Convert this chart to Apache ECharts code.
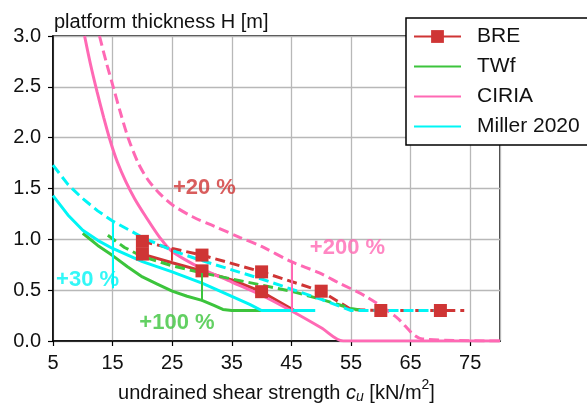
<!DOCTYPE html>
<html>
<head>
<meta charset="utf-8">
<script src="https://cdn.jsdelivr.net/npm/echarts@6/dist/echarts.min.js"></script>
<style>
html,body{margin:0;padding:0;background:#fff}
#main{width:587px;height:405px}
</style>
</head>
<body>
<div id="main"></div>
<script>
// values (x = cu in kN/m2, y = H in m)
var breX = [20, 25, 30, 35, 40, 45.5];
var breH = [0.855, 0.77, 0.69, 0.6, 0.485, 0.3];
var breMarks = [20, 30, 40];

var bre20X = [20, 25, 30, 40, 50, 55, 60, 70, 74];
var bre20H = [0.98, 0.91, 0.845, 0.68, 0.49, 0.31, 0.3, 0.3, 0.3];
var bre20Marks = [20, 30, 40, 50, 60, 70];

var twfX = [10, 12.5, 15, 17.5, 20, 22.5, 25, 27.5, 30, 32, 33.5, 35, 40];
var twfH = [1.06, 0.94, 0.84, 0.73, 0.63, 0.56, 0.49, 0.44, 0.4, 0.35, 0.31, 0.3, 0.3];

var twf100X = [14.2, 17, 20, 25, 30, 35, 40, 45, 50, 55, 57];
var twf100H = [1.04, 0.92, 0.83, 0.74, 0.67, 0.61, 0.55, 0.49, 0.41, 0.32, 0.3];

var ciriaX = [10.3, 11.3, 12.4, 13.5, 14.6, 15.8, 17.2, 18.7, 20.5, 22.9, 25, 30, 35, 40, 45.5, 50, 53.7, 80];
var ciriaH = [3.0, 2.72, 2.45, 2.2, 1.97, 1.76, 1.57, 1.4, 1.23, 1.02, 0.88, 0.71, 0.58, 0.45, 0.28, 0.13, 0.0, 0.0];

var ciria200X = [12.8, 13.9, 15.1, 16.3, 17.6, 19.3, 21, 22.9, 25, 28.5, 32, 36.3, 40, 45, 49.7, 53, 57.6, 62.5, 67, 80];
var ciria200H = [3.0, 2.75, 2.5, 2.25, 2.0, 1.75, 1.58, 1.45, 1.34, 1.22, 1.13, 1.02, 0.93, 0.78, 0.67, 0.57, 0.435, 0.24, 0.02, 0.0];

var millerX = [5, 7.5, 10, 12.5, 15, 20, 25, 30, 35, 38, 40, 49];
var millerH = [1.43, 1.24, 1.09, 0.99, 0.91, 0.78, 0.68, 0.57, 0.44, 0.36, 0.3, 0.3];

var miller30X = [5, 7.5, 10, 12.5, 15, 20, 25, 30, 35, 40, 45, 50, 55, 71];
var miller30H = [1.73, 1.54, 1.4, 1.28, 1.18, 1.02, 0.89, 0.79, 0.7, 0.61, 0.51, 0.41, 0.3, 0.3];

// arrows (x, from, to) and the percentage notes
var arrowX = [25, 45, 15, 30];
var arrowFrom = [0.79, 0.29, 0.52, 0.39];
var arrowTo = [0.91, 0.78, 1.17, 0.67];
var noteText = ['+20 %', '+200 %', '+30 %', '+100 %'];
var noteX = [30.4, 54.4, 10.8, 25.8];
var noteY = [1.51, 0.92, 0.60, 0.18];

var RED = '#cf3535', GREEN = '#3cc43c', PINK = '#ff69b4', CYAN = '#00f5f5';
var noteColors = [RED, PINK, CYAN, GREEN];
var FONT = 'Liberation Sans, Arial, sans-serif';

function pairs(xs, ys) {
	var out = [];
	for (var i = 0; i < xs.length; i++) out.push([xs[i], ys[i]]);
	return out;
}
// same as pairs, but only the listed x values get a square marker
function marked(xs, ys, marks) {
	var out = [];
	for (var i = 0; i < xs.length; i++) {
		out.push({value: [xs[i], ys[i]], symbol: marks.indexOf(xs[i]) >= 0 ? 'rect' : 'none'});
	}
	return out;
}

function lineSeries(name, color, data, dashed, symbol, smooth) {
	return {
		name: name,
		type: 'line',
		data: data,
		symbol: symbol || 'none',
		symbolSize: 13,
		showSymbol: !!symbol,
		showAllSymbol: true,
		smooth: smooth || false,
		itemStyle: {color: color},
		lineStyle: {color: color, width: 3, type: dashed ? [10, 5] : 'solid'},
		emphasis: {disabled: true},
		animation: false
	};
}

var arrowLines = [];
for (var i = 0; i < arrowX.length; i++) {
	arrowLines.push([
		{coord: [arrowX[i], arrowFrom[i]], lineStyle: {color: noteColors[i]}},
		{coord: [arrowX[i], arrowTo[i]]}
	]);
}
var noteData = [];
for (var j = 0; j < noteText.length; j++) {
	noteData.push({
		name: noteText[j],
		value: [noteX[j], noteY[j]],
		label: {color: noteColors[j]}
	});
}

var myChart = echarts.init(document.getElementById('main'));
var option = {
	backgroundColor: '#fff',
	animation: false,
	textStyle: {fontFamily: FONT},
	title: {
		text: 'platform thickness H [m]',
		left: 49,
		top: 7,
		textStyle: {fontSize: 20, fontWeight: 'normal', color: '#111', fontFamily: FONT}
	},
	legend: {
		data: [
			{name: 'BRE'},
			{name: 'TWf', itemStyle: {opacity: 0}},
			{name: 'CIRIA', itemStyle: {opacity: 0}},
			{name: 'Miller 2020', itemStyle: {opacity: 0}}
		],
		orient: 'vertical',
		left: 406,
		top: 18,
		itemWidth: 47,
		itemHeight: 16,
		itemGap: 9,
		padding: [8, 14, 8, 7],
		borderColor: '#000',
		borderWidth: 1.5,
		borderRadius: 0,
		backgroundColor: '#fff',
		textStyle: {fontSize: 21, color: '#111', fontFamily: FONT, padding: [0, 0, 0, 11]}
	},
	grid: {
		left: 53, right: 87, top: 36, bottom: 64,
		outerBoundsMode: 'none',
		containLabel: false,
		show: true, borderColor: '#000', borderWidth: 1.5
	},
	xAxis: {
		type: 'value',
		min: 5, max: 80, interval: 10,
		name: '{a|undrained shear strength }{i|c}{s|u}{a| [kN/m}{p|2}{a|]}',
		nameLocation: 'middle',
		nameGap: 30,
		nameTextStyle: {
			rich: {
				a: {fontSize: 20, color: '#111', fontFamily: FONT, verticalAlign: 'bottom', lineHeight: 26},
				i: {fontSize: 20, color: '#111', fontFamily: FONT, fontStyle: 'italic', verticalAlign: 'bottom', lineHeight: 26},
				s: {fontSize: 14, color: '#111', fontFamily: FONT, fontStyle: 'italic', verticalAlign: 'bottom', lineHeight: 21},
				p: {fontSize: 14, color: '#111', fontFamily: FONT, verticalAlign: 'top', lineHeight: 26}
			}
		},
		axisLine: {lineStyle: {color: '#000', width: 1.5}},
		axisTick: {length: 5, lineStyle: {color: '#000', width: 1.2}},
		axisLabel: {fontSize: 20, color: '#111', margin: 12, showMaxLabel: false, fontFamily: FONT},
		splitLine: {show: true, lineStyle: {color: '#b8b8b8', width: 1.3}}
	},
	yAxis: {
		type: 'value',
		min: 0, max: 3, interval: 0.5,
		axisLine: {show: true, lineStyle: {color: '#000', width: 1.5}},
		axisTick: {show: true, length: 5, lineStyle: {color: '#000', width: 1.2}},
		axisLabel: {
			fontSize: 20, color: '#111', margin: 12, fontFamily: FONT,
			formatter: function (v) { return v.toFixed(1); }
		},
		splitLine: {show: true, lineStyle: {color: '#b8b8b8', width: 1.3}}
	},
	series: [
		lineSeries('BRE', RED, marked(breX, breH, breMarks), false, 'rect'),
		lineSeries('TWf', GREEN, pairs(twfX, twfH), false),
		lineSeries('CIRIA', PINK, pairs(ciriaX, ciriaH), false, null, 0.3),
		lineSeries('Miller 2020', CYAN, pairs(millerX, millerH), false),
		lineSeries('BRE +20 %', RED, marked(bre20X, bre20H, bre20Marks), true, 'rect'),
		lineSeries('TWf +100 %', GREEN, pairs(twf100X, twf100H), true),
		lineSeries('CIRIA +200 %', PINK, pairs(ciria200X, ciria200H), true, null, 0.3),
		lineSeries('Miller 2020 +30 %', CYAN, pairs(miller30X, miller30H), true),
		{
			name: 'notes',
			type: 'scatter',
			data: noteData,
			symbolSize: 1,
			itemStyle: {color: 'rgba(0,0,0,0)'},
			label: {
				show: true,
				position: 'inside',
				formatter: '{b}',
				fontSize: 22,
				fontWeight: 'bold',
				fontFamily: FONT
			},
			markLine: {
				silent: true,
				symbol: ['none', 'triangle'],
				symbolSize: [0, 10],
				label: {show: false},
				lineStyle: {width: 2, type: 'solid'},
				data: arrowLines
			},
			emphasis: {disabled: true},
			z: 5
		}
	]
};
myChart.setOption(option);
</script>
</body>
</html>
